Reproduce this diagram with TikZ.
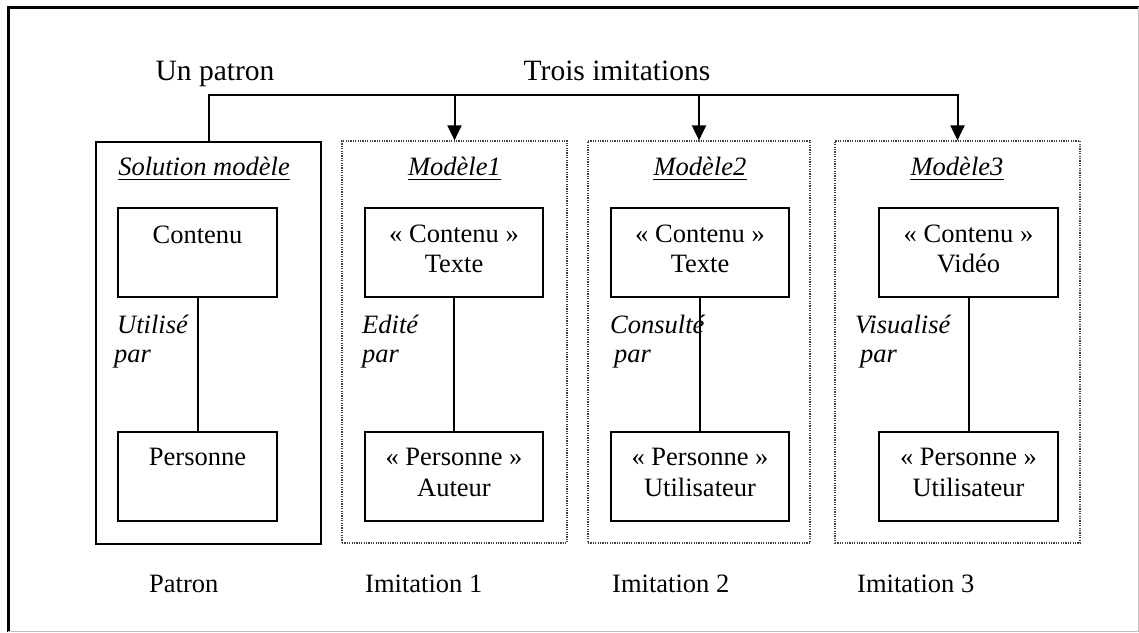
\documentclass[tikz,border=0pt]{standalone}
\usepackage{fontspec}
\setmainfont{Liberation Serif}
\usetikzlibrary{arrows.meta}
\begin{document}
\begin{tikzpicture}[x=1pt,y=-1pt,
  solidbox/.style={draw, line width=2pt, inner sep=0, minimum height=89pt},
  groupbox/.style={draw, line width=2pt, inner sep=0, minimum height=402pt},
  dotbox/.style={draw=black!75, line width=1.2pt, dash pattern=on 1.2pt off 1.2pt,
    inner sep=0, minimum height=402pt},
  link/.style={line width=2pt},
  arr/.style={line width=2pt, -{Triangle[length=15pt,width=14pt]}},
  txt/.style={inner sep=0, font=\fontsize{26.5}{30}\selectfont},
  itxt/.style={inner sep=0, font=\fontsize{26.5}{30}\selectfont\itshape},
  headtxt/.style={inner sep=0, font=\fontsize{29.5}{34}\selectfont},
]
\useasboundingbox (0,0) rectangle (1139,632);

% outer frame
\draw[line width=3pt] (8,632) -- (8,7) -- (1139,7);
\draw[black!25, line width=1pt] (1138,7) -- (1138,631) -- (8,631);

% headings
\node[headtxt, anchor=base] (hpat) at (215,80) {Un patron};
\node[headtxt, anchor=base] (himi) at (617,80) {Trois imitations};

% group frames
\node[groupbox, minimum width=225pt] (pat) at (208.5,343) {};
\node[dotbox, minimum width=225pt] (m1) at (454.5,342) {};
\node[dotbox, minimum width=222pt] (m2) at (699,342) {};
\node[dotbox, minimum width=245pt] (m3) at (957.5,342) {};

% group titles, underlined
\foreach \n/\x/\t in {tp/204/Solution modèle, t1/454.5/Modèle1, t2/700/Modèle2, t3/957/Modèle3}{
  \node[itxt, anchor=base] (\n) at (\x,175) {\t};
  \draw[line width=1.8pt] ([yshift=-4.5pt]\n.base west) -- ([yshift=-4.5pt]\n.base east);
}

% content boxes
\node[solidbox, minimum width=159pt] (cp) at (197.5,252.5) {};
\node[solidbox, minimum width=178pt] (c1) at (454,252.5) {};
\node[solidbox, minimum width=178pt] (c2) at (700,252.5) {};
\node[solidbox, minimum width=179pt] (c3) at (968.5,252.5) {};

% person boxes
\node[solidbox, minimum width=159pt] (pp) at (197.5,476.5) {};
\node[solidbox, minimum width=178pt] (p1) at (454,476.5) {};
\node[solidbox, minimum width=178pt] (p2) at (700,476.5) {};
\node[solidbox, minimum width=179pt] (p3) at (968.5,476.5) {};

% box texts
\node[txt, anchor=base] at (cp.north |- 0,243) {Contenu};
\node[txt, anchor=base] at (c1.north |- 0,242) {«~Contenu~»};
\node[txt, anchor=base] at (c1.north |- 0,272) {Texte};
\node[txt, anchor=base] at (c2.north |- 0,242) {«~Contenu~»};
\node[txt, anchor=base] at (c2.north |- 0,272) {Texte};
\node[txt, anchor=base] at (c3.north |- 0,242) {«~Contenu~»};
\node[txt, anchor=base] at (c3.north |- 0,272) {Vidéo};

\node[txt, anchor=base] at (pp.north |- 0,465) {Personne};
\node[txt, anchor=base] at (p1.north |- 0,465) {«~Personne~»};
\node[txt, anchor=base] at (p1.north |- 0,496) {Auteur};
\node[txt, anchor=base] at (p2.north |- 0,465) {«~Personne~»};
\node[txt, anchor=base] at (p2.north |- 0,496) {Utilisateur};
\node[txt, anchor=base] at (p3.north |- 0,465) {«~Personne~»};
\node[txt, anchor=base] at (p3.north |- 0,496) {Utilisateur};

% associations
\draw[link] (cp) -- (pp);
\draw[link] (c1) -- (p1);
\draw[link] (c2) -- (p2);
\draw[link] (c3) -- (p3);

% association labels
\node[itxt, anchor=base west] at (117,333) {Utilisé};
\node[itxt, anchor=base west] at (114,362) {par};
\node[itxt, anchor=base west] at (362,333) {Edité};
\node[itxt, anchor=base west] at (362,362) {par};
\node[itxt, anchor=base west] at (610,333) {Consulté};
\node[itxt, anchor=base west] at (614,362) {par};
\node[itxt, anchor=base west] at (855,333) {Visualisé};
\node[itxt, anchor=base west] at (860,362) {par};

% pattern to imitations
\coordinate (bus) at (0,95);
\draw[arr] (pat.north) -- (pat.north |- bus) -- (m3.north |- bus) -- (m3.north);
\draw[arr] (m1.north |- bus) -- (m1.north);
\draw[arr] (m2.north |- bus) -- (m2.north);

% captions
\node[txt, anchor=base west] at (149,592) {Patron};
\node[txt, anchor=base west] at (365,592) {Imitation 1};
\node[txt, anchor=base west] at (612,592) {Imitation 2};
\node[txt, anchor=base west] at (857,592) {Imitation 3};
\end{tikzpicture}
\end{document}
